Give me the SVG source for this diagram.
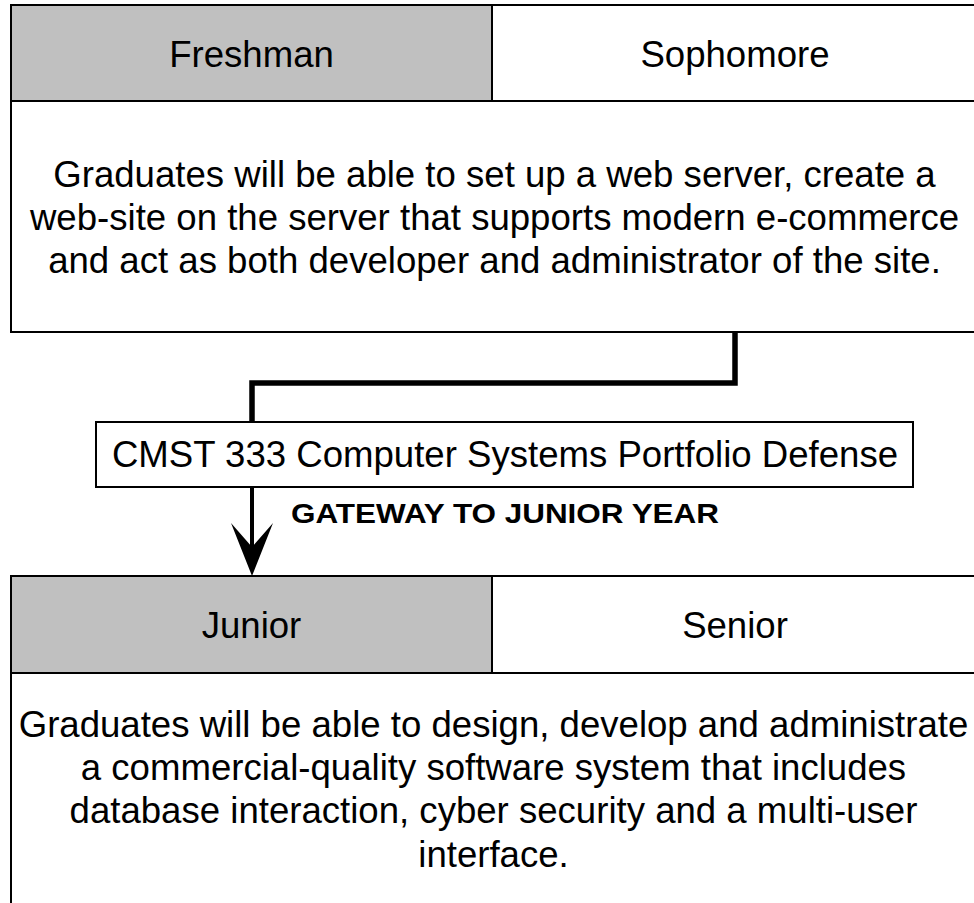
<svg xmlns="http://www.w3.org/2000/svg" width="974" height="903" viewBox="0 0 974 903">
<style>
  .cell { stroke: #000; stroke-width: 2; }
  .gray { fill: #c0c0c0; }
  .white { fill: #ffffff; }
  .t { font-family: "Liberation Sans", Arial, sans-serif; font-size: 36.6px; fill: #000; text-anchor: middle; }
  .b { font-family: "Liberation Sans", Arial, sans-serif; font-size: 28.5px; font-weight: bold; fill: #000; }
  .conn { fill: none; stroke: #000; stroke-linejoin: miter; }
</style>
<rect x="0" y="0" width="974" height="903" fill="#ffffff"/>

<g id="top-block">
  <rect class="cell white" x="11" y="101" width="970" height="231"/>
  <rect class="cell gray" x="11" y="5" width="481" height="96"/>
  <rect class="cell white" x="492" y="5" width="489" height="96"/>
  <text class="t" x="251.5" y="67">Freshman</text>
  <text class="t" x="735" y="67">Sophomore</text>
  <text class="t" x="494.5" y="187">Graduates will be able to set up a web server, create a</text>
  <text class="t" x="494.5" y="230">web-site on the server that supports modern e-commerce</text>
  <text class="t" x="494.5" y="273">and act as both developer and administrator of the site.</text>
</g>

<g id="gateway-box">
  <rect class="cell white" x="96" y="422" width="817" height="65"/>
  <text class="t" x="505" y="466.5">CMST 333 Computer Systems Portfolio Defense</text>
</g>

<g id="bottom-block">
  <rect class="cell white" x="11" y="673" width="970" height="240"/>
  <rect class="cell gray" x="11" y="576" width="481" height="97"/>
  <rect class="cell white" x="492" y="576" width="489" height="97"/>
  <text class="t" x="251.5" y="637.5">Junior</text>
  <text class="t" x="735" y="637.5">Senior</text>
  <text class="t" x="493.5" y="736.5">Graduates will be able to design, develop and administrate</text>
  <text class="t" x="493.5" y="780">a commercial-quality software system that includes</text>
  <text class="t" x="493.5" y="823.3">database interaction, cyber security and a multi-user</text>
  <text class="t" x="493.5" y="866.6">interface.</text>
</g>

<g id="connectors">
  <path class="conn" stroke-width="5.5" d="M735,332 V383 H252 V422"/>
  <path class="conn" stroke-width="4" d="M252,487 V550"/>
  <polygon points="252,576 231,523 252,547 273,523" fill="#000"/>
  <text class="b" x="291" y="522.5" textLength="428" lengthAdjust="spacingAndGlyphs">GATEWAY TO JUNIOR YEAR</text>
</g>
</svg>
